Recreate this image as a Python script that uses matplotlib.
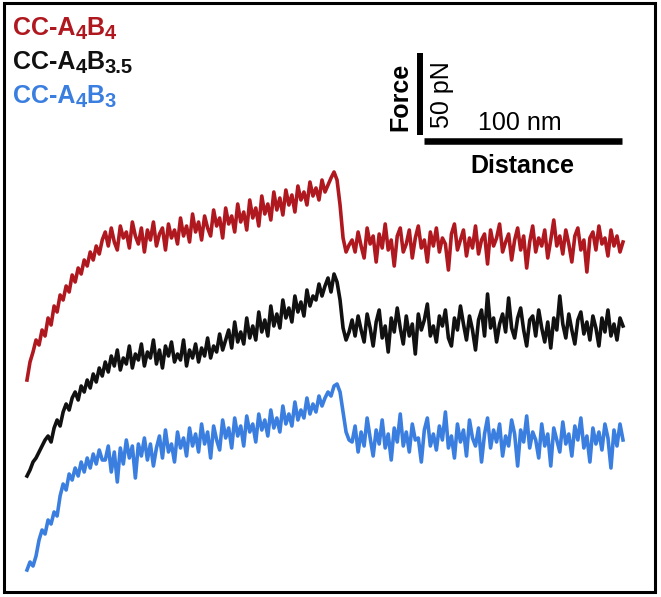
import matplotlib
matplotlib.use('Agg')
import matplotlib.pyplot as plt
from matplotlib.patches import Rectangle
import numpy as np

plt.rcParams['font.family'] = ['Liberation Sans', 'DejaVu Sans']

# traces (pixel-like units, y grows downward)
x_start, x_end = 27, 623

red_y = [380, 362, 352, 340, 345, 330, 336, 318, 325, 306, 312, 295, 300, 286, 292, 275, 282, 268, 274, 260,
         266, 252, 260, 246, 254, 240,
         232, 246, 228, 242, 250, 226, 238, 232, 248, 222, 236, 244, 228, 252, 230, 240, 222, 246, 234, 228,
         250, 224, 238, 230, 244, 218, 236, 226, 242, 214, 232, 222, 240, 216, 228, 236, 210, 226, 218, 238,
         208, 224, 216, 232, 204, 222, 212, 230, 200, 218, 208, 226, 196, 214, 204, 220, 192, 210, 198, 215,
         190, 205, 195, 212, 186, 200, 192, 205, 182, 196, 188, 200, 180, 192, 185, 178, 172,
         180, 205, 238, 252, 245,
         240, 252, 232, 246, 258, 228, 244, 236, 262, 234, 248, 224, 250, 240, 266, 236, 228, 252, 244, 230,
         258, 238, 226, 248, 240, 262, 232, 246, 228, 252, 238, 244, 270, 234, 224, 250, 240, 230, 256, 238,
         248, 226, 254, 240, 234, 264, 230, 246, 238, 224, 252, 242, 234, 260, 240, 228, 250, 236, 268, 242,
         226, 252, 238, 246, 230, 258, 240, 220, 246, 236, 254, 230, 244, 262, 236, 228, 250, 240, 272, 238,
         232, 250, 226, 244, 238, 256, 230, 246, 236, 252, 242]

black_y = [476, 470, 462, 458, 452, 446, 440, 436, 442, 428, 420, 426, 412, 404, 410, 398, 392, 400, 386, 392,
           380, 388, 374, 382, 368, 376,
           362, 372, 356, 366, 350, 370, 358, 364, 346, 368, 354, 360, 344, 366, 352, 358, 340, 364, 350, 368,
           346, 356, 342, 362, 354, 360, 340, 366, 350, 358, 344, 362, 348, 356, 338, 358, 346, 352, 334, 350,
           340, 330, 348, 322, 342, 332, 344, 318, 338, 326, 340, 312, 332, 320, 336, 306, 326, 314, 328, 300,
           318, 308, 322, 296, 312, 302, 316, 290, 306, 296, 300, 284, 296, 286, 278, 292, 274,
           282, 300, 328, 340, 332,
           320, 336, 316, 330, 342, 314, 328, 346, 322, 310, 338, 326, 352, 318, 332, 308, 328, 344, 316, 336,
           324, 354, 314, 330, 320, 304, 336, 326, 342, 316, 326, 310, 338, 346, 318, 330, 306, 324, 340, 316,
           330, 350, 320, 310, 336, 294, 328, 318, 342, 324, 314, 332, 298, 328, 338, 318, 308, 330, 346, 320,
           316, 336, 310, 328, 342, 322, 348, 318, 330, 296, 324, 338, 314, 330, 344, 320, 312, 334, 322, 340,
           316, 328, 346, 318, 332, 310, 336, 324, 340, 318, 326]

blue_y = [570, 562, 566, 556, 540, 530, 534, 520, 524, 512, 516, 496, 484, 490, 474, 480, 468, 476, 462, 472,
          458, 468, 454, 464, 450, 460,
          460, 446, 472, 452, 482, 448, 464, 440, 458, 446, 478, 444, 456, 438, 460, 444, 466, 448, 436, 458,
          430, 452, 444, 462, 432, 448, 438, 456, 428, 446, 434, 452, 424, 444, 432, 458, 426, 440, 450, 420,
          438, 428, 448, 418, 436, 426, 446, 416, 432, 424, 442, 414, 430, 420, 436, 410, 428, 418, 432, 406,
          424, 414, 426, 402, 420, 410, 418, 398, 414, 404, 412, 396, 406, 398, 392, 396, 386,
          384, 392, 412, 432, 440,
          442, 426, 452, 432, 446, 418, 438, 456, 430, 444, 420, 448, 434, 460, 428, 442, 414, 446, 432, 452,
          424, 440, 438, 462, 430, 418, 446, 434, 450, 426, 440, 412, 448, 436, 458, 424, 442, 430, 456, 420,
          438, 446, 428, 462, 434, 418, 448, 430, 442, 424, 456, 436, 446, 420, 434, 466, 430, 442, 416, 448,
          432, 440, 458, 424, 446, 434, 466, 428, 440, 452, 422, 444, 434, 456, 426, 440, 418, 448, 436, 462,
          428, 444, 432, 450, 424, 438, 468, 430, 446, 424, 440]

# label pieces: (text, is_subscript)
labels = [[('CC-A', False), ('4', True), ('B', False), ('4', True)],
          [('CC-A', False), ('4', True), ('B', False), ('3.5', True)],
          [('CC-A', False), ('4', True), ('B', False), ('3', True)]]
colors = ['#b0181f', '#111111', '#3a7ee0']
series = [red_y, black_y, blue_y]

fig = plt.figure(figsize=(6.61, 5.97), dpi=100)
ax = fig.add_axes([0, 0, 1, 1])
ax.set_xlim(0, 661)
ax.set_ylim(597, 0)
ax.axis('off')

for y, c in zip(series, colors):
    x = np.linspace(x_start, x_end, len(y))
    ax.plot(x, y, color=c, lw=2.6, solid_joinstyle='round')

# legend text, built piece by piece so the subscripts stay large
renderer = fig.canvas.get_renderer()
for i, (parts, c) in enumerate(zip(labels, colors)):
    xpos = 13
    base = 35 + i * 34
    for s, sub in parts:
        t = ax.text(xpos, base + (4 if sub else 0), s, color=c, fontweight='bold',
                    fontsize=14.5 if sub else 18, ha='left', va='baseline')
        xpos += t.get_window_extent(renderer).width

# scale bar
ax.plot([420, 420], [53, 135], color='black', lw=4.3, solid_capstyle='butt')
ax.plot([424, 622], [141, 141], color='black', lw=4.7, solid_capstyle='butt')
ax.text(400, 97, 'Force', rotation=90, fontsize=18, fontweight='bold', ha='center', va='center')
ax.text(442, 95, '50 pN', rotation=90, fontsize=18, ha='center', va='center')
ax.text(520, 130, '100 nm', fontsize=18, ha='center', va='baseline')
ax.text(522, 173, 'Distance', fontsize=18, fontweight='bold', ha='center', va='baseline')

# outer frame
fig.patches.append(Rectangle((3.5 / 661, 5.5 / 597), 651.5 / 661, 589 / 597, transform=fig.transFigure,
                             fill=False, edgecolor='black', lw=2.2))

fig.savefig('out.png', dpi=100)
